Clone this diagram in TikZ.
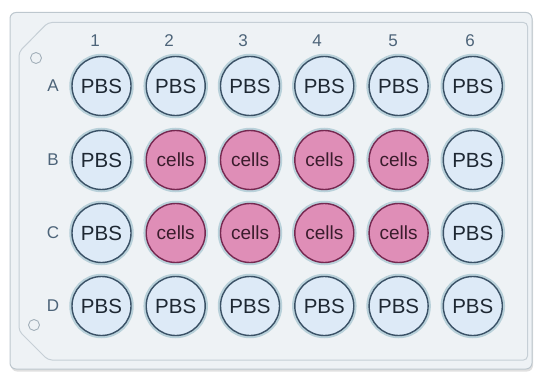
\documentclass[tikz,border=0pt]{standalone}
\usepackage{fontspec}
\setmainfont{Liberation Sans}
\definecolor{plate}{HTML}{EEF2F5}
\definecolor{plateline}{HTML}{BDC7CE}
\definecolor{innerline}{HTML}{C6CFD6}
\definecolor{pbsfill}{HTML}{DDEAF7}
\definecolor{pbsline}{HTML}{3A5166}
\definecolor{cellfill}{HTML}{DF8EB7}
\definecolor{cellline}{HTML}{762850}
\definecolor{halo}{HTML}{B9D1DA}
\definecolor{lbl}{HTML}{4D6479}
\definecolor{welltext}{HTML}{1E2833}
\definecolor{celltext}{HTML}{3A1C2C}
\definecolor{ring}{HTML}{A3B0BA}
\begin{document}
\begin{tikzpicture}[x=1pt,y=-1pt,
  wellbase/.style={circle, minimum size=59pt, inner sep=0pt, line width=1.4pt,
    preaction={draw=halo, line width=5.5pt}},
  pbswell/.style={wellbase, fill=pbsfill, draw=pbsline, text=welltext, font=\fontsize{20.5}{20.5}\selectfont},
  cellwell/.style={wellbase, fill=cellfill, draw=cellline, text=celltext, font=\fontsize{19}{19}\selectfont},
  collabel/.style={text=lbl, font=\fontsize{17}{17}\selectfont, inner sep=0pt},
  markring/.style={draw=ring, line width=0.9pt}
]
\useasboundingbox (0,0) rectangle (534,374);
% shadow and outer plate
\fill[black!12, rounded corners=6pt] (11,15) rectangle (533,371.5);
\draw[plateline, fill=plate, line width=1pt, rounded corners=6pt] (10,12.5) rectangle (532,369);
% inner plate outline with chamfers
\draw[innerline, line width=1pt, rounded corners=4pt]
  (19,52) -- (48,22.5) -- (527.5,22.5) -- (527.5,360) -- (48,360) -- (19,331) -- cycle;
% orientation marks
\draw[markring] (36,58) circle (5.5);
\draw[markring] (34,325) circle (5.5);
% column labels
\node[collabel] (c1) at (95,41) {1};
\node[collabel] (c2) at (169,41) {2};
\node[collabel] (c3) at (243,41) {3};
\node[collabel] (c4) at (317,41) {4};
\node[collabel] (c5) at (393,41) {5};
\node[collabel] (c6) at (470,41) {6};
% row labels
\node[collabel] (rA) at (53,86) {A};
\node[collabel] (rB) at (53,160) {B};
\node[collabel] (rC) at (53,233) {C};
\node[collabel] (rD) at (53,306) {D};
% wells
\foreach \c/\x in {1/101.5,2/175.7,3/250,4/324.3,5/398.6,6/472.8}{
  \node[pbswell] (A\c) at (\x,86) {PBS};
  \node[pbswell] (D\c) at (\x,306) {PBS};
}
\foreach \r/\y in {B/160,C/233}{
  \node[pbswell] (\r1) at (101.5,\y) {PBS};
  \node[cellwell] (\r2) at (175.7,\y) {cells};
  \node[cellwell] (\r3) at (250,\y) {cells};
  \node[cellwell] (\r4) at (324.3,\y) {cells};
  \node[cellwell] (\r5) at (398.6,\y) {cells};
  \node[pbswell] (\r6) at (472.8,\y) {PBS};
}
\end{tikzpicture}
\end{document}
